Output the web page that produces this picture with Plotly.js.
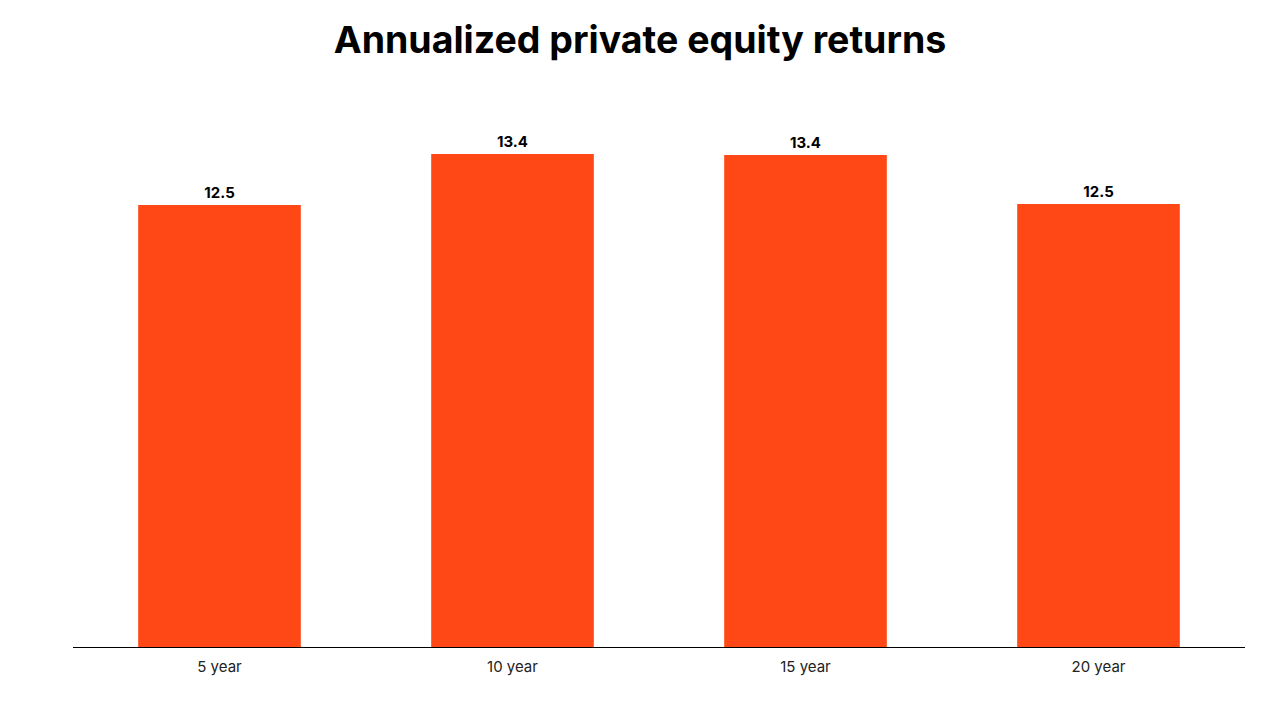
<!DOCTYPE html>
<html>
<head>
<meta charset="utf-8">
<script src="https://cdn.plot.ly/plotly-3.0.1.min.js"></script>
<style>html,body{margin:0;padding:0;background:#fff;}#chart{width:1280px;height:720px;}</style>
</head>
<body>
<div id="chart"></div>
<script>
const categories = ["5 year", "10 year", "15 year", "20 year"];
const returns = [12.48, 13.42, 13.40, 12.50];

const trace = {
  type: "bar",
  x: categories,
  y: returns,
  marker: {color: "#FF4815"},
  width: 0.555,
  text: returns.map(v => v.toFixed(1)),
  textposition: "outside",
  cliponaxis: false,
  textfont: {family: "Inter, Roboto, sans-serif", size: 15, color: "#000", weight: 700},
  hoverinfo: "skip"
};

const layout = {
  width: 1280,
  height: 720,
  margin: {l: 73, r: 35, t: 100, b: 73},
  paper_bgcolor: "#fff",
  plot_bgcolor: "#fff",
  showlegend: false,
  title: {
    text: "<b>Annualized private equity returns</b>",
    x: 0.5, xref: "container", xanchor: "center",
    y: 0.945, yref: "container", yanchor: "middle",
    font: {family: "Inter, Roboto, sans-serif", size: 37.5, color: "#000"}
  },
  xaxis: {
    showline: true, linecolor: "#000", linewidth: 1,
    ticks: "", showgrid: false,
    ticklabelstandoff: 6,
    tickfont: {family: "Inter, Roboto, sans-serif", size: 15, color: "#222"}
  },
  yaxis: {
    range: [4.334, 14.415],
    visible: false, showgrid: false, zeroline: false
  }
};

Plotly.newPlot("chart", [trace], layout, {displayModeBar: false, staticPlot: true});
</script>
</body>
</html>
